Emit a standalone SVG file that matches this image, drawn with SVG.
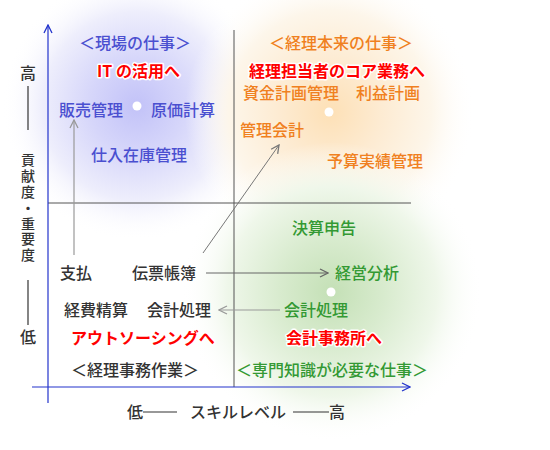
<svg xmlns="http://www.w3.org/2000/svg" width="550" height="450" viewBox="0 0 550 450">
<defs>
<radialGradient id="gb" cx="137" cy="106" r="135" gradientUnits="userSpaceOnUse">
<stop offset="0" stop-color="#c2c2f8"/><stop offset="0.35" stop-color="#d6d6fa"/><stop offset="0.7" stop-color="#eeeefc"/><stop offset="1" stop-color="#ffffff" stop-opacity="0"/>
</radialGradient>
<radialGradient id="go" cx="330" cy="112" r="145" gradientUnits="userSpaceOnUse">
<stop offset="0" stop-color="#fde0b6"/><stop offset="0.35" stop-color="#fdebd2"/><stop offset="0.7" stop-color="#fdf6ea"/><stop offset="1" stop-color="#ffffff" stop-opacity="0"/>
</radialGradient>
<radialGradient id="gg" cx="332" cy="292" r="150" gradientUnits="userSpaceOnUse">
<stop offset="0" stop-color="#c4e0b6"/><stop offset="0.35" stop-color="#d8ebce"/><stop offset="0.7" stop-color="#eff7ea"/><stop offset="1" stop-color="#ffffff" stop-opacity="0"/>
</radialGradient>
<marker id="ah" viewBox="0 0 10 10" refX="9" refY="5" markerWidth="10" markerHeight="10" markerUnits="userSpaceOnUse" orient="auto">
<path d="M1,1 L9,5 L1,9" fill="none" stroke="context-stroke" stroke-width="1.3"/>
</marker>
<marker id="ab" viewBox="0 0 10 10" refX="9" refY="5" markerWidth="10" markerHeight="10" markerUnits="userSpaceOnUse" orient="auto">
<path d="M1,1 L9,5 L1,9" fill="none" stroke="#2233cc" stroke-width="1.3"/>
</marker>
</defs>
<style>
text{font-family:"Noto Sans CJK JP","Noto Sans CJK SC",sans-serif;font-size:16px;font-weight:500}
.b{fill:#4a4fd0}.o{fill:#f08020}.g{fill:#339933}.k{fill:#333333}
.v{font-size:14px;writing-mode:vertical-rl;letter-spacing:1.8px}
.r{fill:#ff0000;font-weight:700;stroke:#ffffff;stroke-width:3;paint-order:stroke;stroke-linejoin:round}
.ax{stroke:#2233cc;stroke-width:1.2;fill:none}
.gl{stroke:#555555;stroke-width:1;fill:none}
</style>
<rect width="550" height="450" fill="#ffffff"/>
<circle cx="137" cy="106" r="135" fill="url(#gb)"/>
<circle cx="330" cy="112" r="145" fill="url(#go)"/>
<circle cx="332" cy="292" r="150" fill="url(#gg)"/>
<g id="grid">
<line class="gl" x1="234" y1="30" x2="234" y2="387"/>
<line class="gl" x1="48" y1="203" x2="411" y2="203"/>
</g>
<g id="axes">
<line class="ax" x1="48" y1="403" x2="48" y2="25" marker-end="url(#ab)"/>
<line class="ax" x1="32" y1="387" x2="410" y2="387" marker-end="url(#ab)"/>
</g>
<g id="dots" fill="#ffffff">
<circle cx="137" cy="106" r="4.5"/>
<circle cx="329" cy="112" r="4.5"/>
<circle cx="331" cy="292" r="4.5"/>
</g>
<g id="connectors" fill="none">
<line x1="74" y1="255" x2="74" y2="120" stroke="#999999" stroke-width="1.2" marker-end="url(#ah)"/>
<line x1="203" y1="253" x2="279" y2="145" stroke="#777777" stroke-width="1" marker-end="url(#ah)"/>
<line x1="206" y1="273" x2="328" y2="273" stroke="#666666" stroke-width="1" marker-end="url(#ah)"/>
<line x1="280" y1="310" x2="219" y2="310" stroke="#999999" stroke-width="1.2" marker-end="url(#ah)"/>
</g>
<g id="q1">
<text class="b" x="79" y="49">＜現場の仕事＞</text>
<text class="r" x="97" y="77">IT の活用へ</text>
<text class="b" x="59" y="116">販売管理</text>
<text class="b" x="151" y="116">原価計算</text>
<text class="b" x="91" y="161">仕入在庫管理</text>
</g>
<g id="q2">
<text class="o" x="269" y="49">＜経理本来の仕事＞</text>
<text class="r" x="249" y="77">経理担当者のコア業務へ</text>
<text class="o" x="243" y="99">資金計画管理</text>
<text class="o" x="356" y="99">利益計画</text>
<text class="o" x="240" y="136">管理会計</text>
<text class="o" x="327" y="167">予算実績管理</text>
</g>
<g id="q4">
<text class="g" x="292" y="234">決算申告</text>
<text class="g" x="335" y="279">経営分析</text>
<text class="g" x="284" y="316">会計処理</text>
<text class="r" x="286" y="344">会計事務所へ</text>
<text class="g" x="236" y="376">＜専門知識が必要な仕事＞</text>
</g>
<g id="q3">
<text class="k" x="60" y="279">支払</text>
<text class="k" x="132" y="279">伝票帳簿</text>
<text class="k" x="64" y="316">経費精算</text>
<text class="k" x="147" y="316">会計処理</text>
<text class="r" x="71" y="344">アウトソーシングへ</text>
<text class="k" x="71" y="376">＜経理事務作業＞</text>
</g>
<g id="yaxis-label">
<text class="k" x="20" y="79">高</text>
<line x1="28" y1="86" x2="28" y2="130" stroke="#333" stroke-width="1.2"/>
<text class="k v" x="28" y="153">貢献度・重要度</text>
<line x1="28" y1="280" x2="28" y2="325" stroke="#333" stroke-width="1.2"/>
<text class="k" x="20" y="343">低</text>
</g>
<g id="xaxis-label">
<text class="k" x="127" y="418">低</text>
<line x1="143" y1="412" x2="177" y2="412" stroke="#333" stroke-width="1.2"/>
<text class="k" x="190" y="418">スキルレベル</text>
<line x1="293" y1="412" x2="329" y2="412" stroke="#333" stroke-width="1.2"/>
<text class="k" x="329" y="418">高</text>
</g>
</svg>
